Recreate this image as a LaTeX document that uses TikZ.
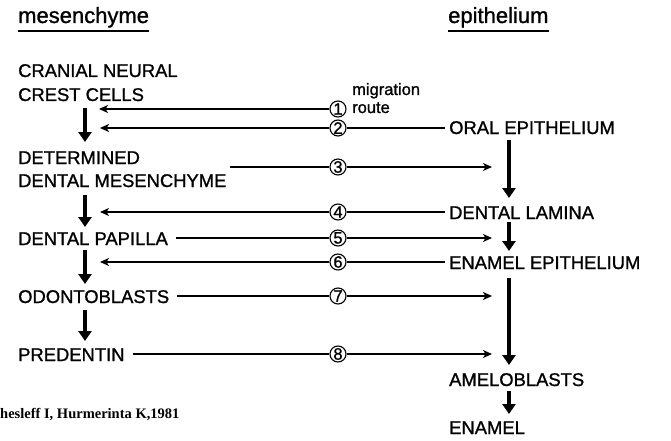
\documentclass[tikz,border=0pt]{standalone}
\usepackage{fontspec}
\setmainfont{Liberation Sans}[FakeBold=1.1]
\newfontfamily\citefont{Liberation Serif}
\usetikzlibrary{arrows.meta}
\begin{document}
\begin{tikzpicture}[x=1pt,y=-1pt,
  lbl/.style={inner sep=0pt,anchor=base west,font=\fontsize{18.4}{23}\selectfont,align=left},
  head/.style={inner sep=0pt,anchor=base west,font=\fontsize{22}{24}\selectfont},
  small/.style={inner sep=0pt,anchor=base west,font=\fontsize{16.5}{18}\selectfont},
  num/.style={circle,draw,line width=1.1pt,inner sep=0pt,minimum size=16pt,font=\fontsize{16.5}{16}\selectfont},
  thin/.style={line width=1.4pt},
  thinarr/.style={line width=1.4pt,-{Stealth[length=9pt,width=8pt,inset=2.5pt]}},
  thick/.style={line width=4pt,-{Triangle[length=10pt,width=13pt]}},
  uline/.style={line width=1.8pt}]
\useasboundingbox (0,0) rectangle (671,441);
% headings
\node[head] (mes) at (18,23) {mesenchyme};
\node[head] (epi) at (448,23) {epithelium};
\draw[uline] (mes.south west |- 0,31) -- (mes.south east |- 0,31);
\draw[uline] (epi.south west |- 0,31) -- (epi.south east |- 0,31);
% left column
\node[lbl] (cnc1) at (18,77) {CRANIAL NEURAL};
\node[lbl] (cnc) at (18,101) {CREST CELLS};
\node[lbl] (dm1) at (18,164) {DETERMINED};
\node[lbl] (dm) at (18,187) {DENTAL MESENCHYME};
\node[lbl] (dp) at (18,245) {DENTAL PAPILLA};
\node[lbl] (od) at (18,303) {ODONTOBLASTS};
\node[lbl] (pd) at (18,361) {PREDENTIN};
% right column
\node[lbl] (oe) at (449,134) {ORAL EPITHELIUM};
\node[lbl] (dl) at (449,219) {DENTAL LAMINA};
\node[lbl] (ee) at (449,269) {ENAMEL EPITHELIUM};
\node[lbl] (am) at (449,386) {AMELOBLASTS};
\node[lbl] (en) at (449,434) {ENAMEL};
% migration route
\node[small] (mig) at (352,95) {migration};
\node[small] (rt) at (352,113) {route};
% circles
\node[num] (c1) at (338,109) {1};
\node[num] (c2) at (338,128) {2};
\node[num] (c3) at (338,167) {3};
\node[num] (c4) at (338,212) {4};
\node[num] (c5) at (338,238) {5};
\node[num] (c6) at (338,262) {6};
\node[num] (c7) at (338,296) {7};
\node[num] (c8) at (338,354) {8};
% free ends
\coordinate (l1) at (99,109);
\coordinate (l2) at (100,128);
\coordinate (l4) at (100,212);
\coordinate (l6) at (100,262);
\coordinate (r3) at (492,167);
\coordinate (r5) at (492,238);
\coordinate (r7) at (492,296);
\coordinate (r8) at (492,354);
% thin arrows
\draw[thinarr] (c1.west) -- (l1);
\draw[thin] (oe.west |- c2) ++(-4,0) -- (c2.east);
\draw[thinarr] (c2.west) -- (l2);
\draw[thin] (230,167) -- (c3.west);
\draw[thinarr] (c3.east) -- (r3);
\draw[thin] (oe.west |- c4) ++(-4,0) -- (c4.east);
\draw[thinarr] (c4.west) -- (l4);
\draw[thin] (dp.east |- c5) ++(8,0) -- (c5.west);
\draw[thinarr] (c5.east) -- (r5);
\draw[thin] (oe.west |- c6) ++(-4,0) -- (c6.east);
\draw[thinarr] (c6.west) -- (l6);
\draw[thin] (od.east |- c7) ++(8,0) -- (c7.west);
\draw[thinarr] (c7.east) -- (r7);
\draw[thin] (pd.east |- c8) ++(8,0) -- (c8.west);
\draw[thinarr] (c8.east) -- (r8);
% thick arrows left
\draw[thick] (85,108) -- (85,142);
\draw[thick] (85,195) -- (85,227);
\draw[thick] (85,250) -- (85,284);
\draw[thick] (85,310) -- (85,341);
% thick arrows right
\draw[thick] (509,140) -- (509,198);
\draw[thick] (509,222) -- (509,251);
\draw[thick] (509,278) -- (509,365);
\draw[thick] (509,391) -- (509,414);
% citation
\node[inner sep=0pt,anchor=base west,font=\citefont\bfseries\fontsize{14.5}{16}\selectfont] (cite) at (0,418) {hesleff I, Hurmerinta K,1981};
\end{tikzpicture}
\end{document}
